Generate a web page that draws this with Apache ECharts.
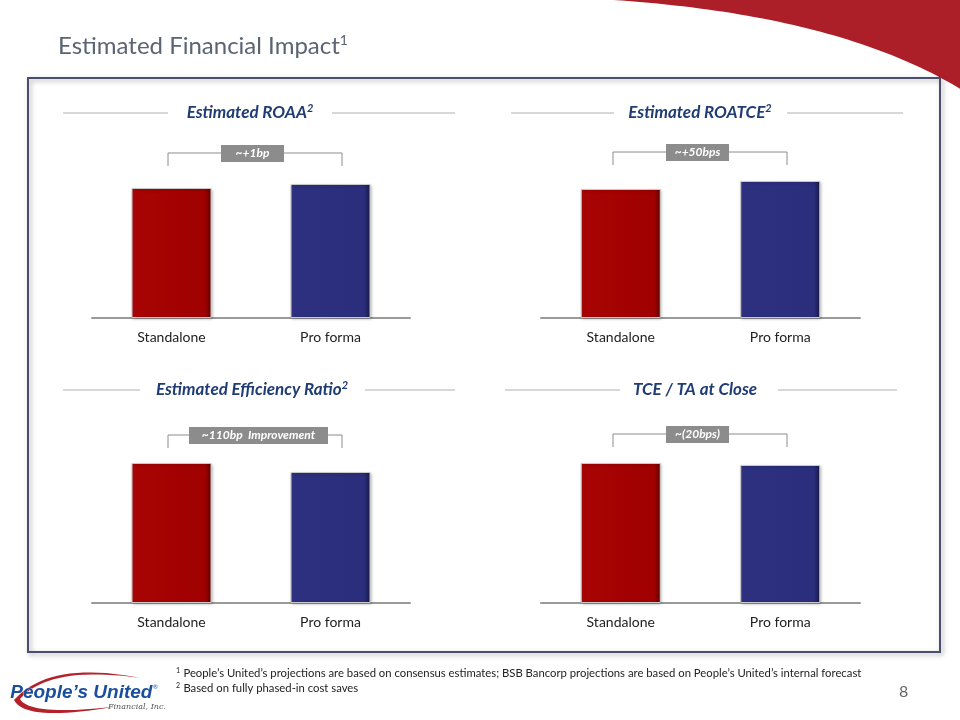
<!DOCTYPE html>
<html><head><meta charset="utf-8">
<script src="https://cdn.jsdelivr.net/npm/echarts@6/dist/echarts.min.js"></script>
<style>html,body{margin:0;padding:0;background:#fff}#c{width:960px;height:720px}</style>
</head><body><div id="c"></div>
<script>
const categories = ['Standalone', 'Pro forma'];
const roaa = [130, 134];
const roatce = [129, 137];
const efficiency = [140, 131];
const tceTa = [140, 138];
const panelTitles = ['Estimated ROAA', 'Estimated ROATCE', 'Estimated Efficiency Ratio', 'TCE / TA at Close'];
const panelSup = ['2', '2', '2', ''];
const annotations = ['~+1bp', '~+50bps', '~110bp  Improvement', '~(20bps)'];
const footnotes = ['People\u2019s United\u2019s projections are based on consensus estimates; BSB Bancorp projections are based on People\u2019s United\u2019s internal forecast', 'Based on fully phased-in cost saves'];

const FONT = 'Lato, "Open Sans", sans-serif';
const chart = echarts.init(document.getElementById('c'));

const grids = [
  {left: 92, top: 168, width: 318, height: 150},
  {left: 541, top: 168, width: 319, height: 150},
  {left: 92, top: 453, width: 318, height: 150},
  {left: 541, top: 453, width: 319, height: 150}
];
const seriesData = [roaa, roatce, efficiency, tceTa];

function grad(stops) {
  return {type: 'linear', x: 0, y: 0, x2: 1, y2: 0, colorStops: stops};
}
function barColor(i) {
  if (i === 0) return grad([
    {offset: 0, color: '#b00a0a'}, {offset: 0.06, color: '#a80404'}, {offset: 0.92, color: '#a00000'}, {offset: 1, color: '#5c0000'}]);
  return grad([
    {offset: 0, color: '#353a8c'}, {offset: 0.06, color: '#2d307e'}, {offset: 0.92, color: '#2b2e7c'}, {offset: 1, color: '#171845'}]);
}
function quad(p0, p1, p2, n) {
  const pts = [];
  for (let i = 0; i <= n; i++) {
    const t = i / n, a = (1 - t) * (1 - t), b = 2 * (1 - t) * t, c = t * t;
    pts.push([a * p0[0] + b * p1[0] + c * p2[0], a * p0[1] + b * p1[1] + c * p2[1]]);
  }
  return pts;
}

const xAxes = [], yAxes = [], series = [];
grids.forEach((g, k) => {
  xAxes.push({type: 'category', gridIndex: k, data: categories,
    axisLine: {lineStyle: {color: '#9a9a9a', width: 2}}, axisTick: {show: false},
    axisLabel: {color: '#222', fontSize: 14, fontFamily: FONT, margin: 12}});
  yAxes.push({type: 'value', gridIndex: k, min: 0, max: 150, show: false, splitLine: {show: false}});
  series.push({type: 'bar', xAxisIndex: k, yAxisIndex: k, barWidth: 80,
    data: seriesData[k].map((v, i) => ({value: v, itemStyle: {color: barColor(i)}})),
    itemStyle: {borderColor: '#c9c9c9', borderWidth: 1, shadowColor: 'rgba(0,0,0,0.25)', shadowBlur: 3, shadowOffsetX: 1, shadowOffsetY: 1},
    silent: true, animation: false});
});

const graphic = [];
// red swoosh top right
const sw = quad([613, 0], [840, 15], [962, 90], 50).concat([[962, 0]]);
graphic.push({type: 'polygon', shape: {points: sw}, style: {fill: '#ad1f28'}});
// page title
graphic.push({type: 'text', left: 58, top: 33, style: {text: '{t|Estimated Financial Impact}{s|1}',
  rich: {t: {fontSize: 24, fontFamily: FONT, fontWeight: 'normal', fill: '#5a6472'}, s: {fontSize: 14, fontFamily: FONT, fill: '#5a6472', verticalAlign: 'top', padding: [0, 0, 12, 0]}}}});
// frame
graphic.push({type: 'rect', shape: {x: 28, y: 78, width: 912, height: 574},
  style: {fill: 'none', stroke: '#4a4d6e', lineWidth: 2, shadowColor: 'rgba(0,0,0,0.35)', shadowBlur: 5, shadowOffsetX: 2, shadowOffsetY: 2}, z: 0});

// panel headings
const heads = [
  {cx: 250, y: 113, l: [63, 168], r: [332, 455]},
  {cx: 700, y: 113, l: [511, 614], r: [787, 903]},
  {cx: 252, y: 390, l: [63, 140], r: [365, 455]},
  {cx: 695, y: 390, l: [505, 620], r: [778, 897]}
];
heads.forEach((h, k) => {
  graphic.push({type: 'line', shape: {x1: h.l[0], y1: h.y, x2: h.l[1], y2: h.y}, style: {stroke: '#b0b0b0', lineWidth: 1}});
  graphic.push({type: 'line', shape: {x1: h.r[0], y1: h.y, x2: h.r[1], y2: h.y}, style: {stroke: '#b0b0b0', lineWidth: 1}});
  graphic.push({type: 'text', x: h.cx, y: h.y, style: {text: '{t|' + panelTitles[k] + '}' + (panelSup[k] ? '{s|' + panelSup[k] + '}' : ''),
    align: 'center', verticalAlign: 'middle',
    rich: {t: {fontSize: 17, fontStyle: 'italic', fontWeight: 'bold', fontFamily: FONT, fill: '#1f3c74'},
           s: {fontSize: 11, fontStyle: 'italic', fontWeight: 'bold', fontFamily: FONT, fill: '#1f3c74', verticalAlign: 'top', padding: [0, 0, 9, 0]}}}});
});

// brackets
const brackets = [
  {x1: 168, x2: 342, y: 153, b: 166, bx: 221, bw: 63},
  {x1: 613, x2: 787, y: 152, b: 165, bx: 666, bw: 63},
  {x1: 168, x2: 342, y: 435, b: 448, bx: 189, bw: 139},
  {x1: 613, x2: 787, y: 434, b: 447, bx: 666, bw: 63}
];
brackets.forEach((b, k) => {
  graphic.push({type: 'polyline', shape: {points: [[b.x1, b.b], [b.x1, b.y], [b.x2, b.y], [b.x2, b.b]]}, style: {stroke: '#8c8c8c', lineWidth: 1, fill: null}});
  graphic.push({type: 'rect', shape: {x: b.bx, y: b.y - 8, width: b.bw, height: 17}, style: {fill: '#8c8c8c'}});
  graphic.push({type: 'text', x: b.bx + b.bw / 2, y: b.y + 0.5, style: {text: annotations[k], align: 'center', verticalAlign: 'middle',
    fontSize: 12, fontStyle: 'italic', fontWeight: 'bold', fontFamily: FONT, fill: '#ffffff'}});
});

// footnotes
footnotes.forEach((f, i) => {
  graphic.push({type: 'text', left: 176, top: 667 + i * 15, style: {text: '{s|' + (i + 1) + '} {t|' + f + '}',
    rich: {s: {fontSize: 7, fontFamily: FONT, fill: '#222', verticalAlign: 'top', padding: [0, 0, 5, 0]}, t: {fontSize: 11.3, fontFamily: FONT, fill: '#222'}}}});
});
graphic.push({type: 'text', left: 899, top: 684, style: {text: '8', fontSize: 16, fontFamily: FONT, fill: '#666'}});

// logo swoosh
const outer = quad([140, 678], [50, 660], [14, 700], 20).concat(quad([14, 700], [25, 722], [112, 707], 20).slice(1));
const inner = quad([112, 707], [30, 716], [20, 699], 20).slice(1).concat(quad([20, 699], [50, 665], [140, 678], 20).slice(1));
graphic.push({type: 'polygon', shape: {points: outer.concat(inner)}, style: {fill: '#b3222b'}});
graphic.push({type: 'text', left: 10, top: 683, style: {text: 'People\u2019s United', fontSize: 19, fontStyle: 'italic', fontWeight: 'bold', fontFamily: '"Liberation Sans Narrow", Arial, sans-serif', fill: '#1a4f9c', stroke: '#fff', lineWidth: 0.5}});
graphic.push({type: 'text', left: 153, top: 684, style: {text: '\u00ae', fontSize: 6, fontFamily: FONT, fill: '#1a4f9c'}});
graphic.push({type: 'text', left: 108, top: 703, style: {text: 'Financial, Inc.', fontSize: 8, fontStyle: 'italic', fontFamily: '"DejaVu Serif", serif', fill: '#555'}});

chart.setOption({animation: false, grid: grids, xAxis: xAxes, yAxis: yAxes, series: series, graphic: graphic});
</script></body></html>
